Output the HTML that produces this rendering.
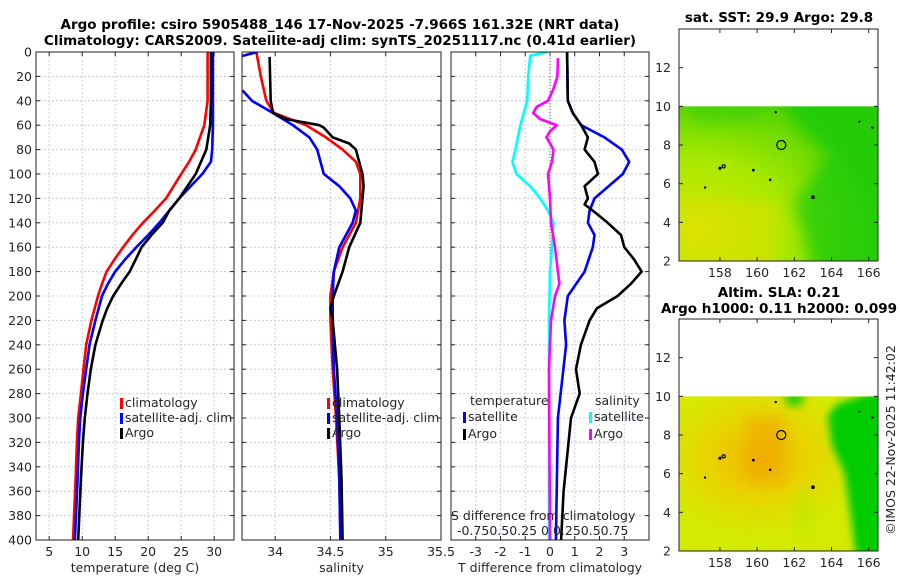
<!DOCTYPE html>
<html><head><meta charset="utf-8">
<style>
html,body{margin:0;padding:0;background:#fff;}
svg{display:block;font-family:"DejaVu Sans","Liberation Sans",sans-serif;}
.t{font-size:12.5px;fill:#262626;}
.b{font-size:13.5px;font-weight:bold;fill:#000;}
</style></head>
<body>
<svg id="c" width="900" height="580" viewBox="0 0 900 580" xmlns="http://www.w3.org/2000/svg">
<defs>
<clipPath id="cp1"><rect x="36" y="52" width="198" height="488"/></clipPath>
<clipPath id="cp2"><rect x="242" y="52" width="199" height="488"/></clipPath>
<clipPath id="cp3"><rect x="451" y="52" width="198" height="488"/></clipPath>
<clipPath id="cm1"><rect x="679" y="106.5" width="199" height="154.5"/></clipPath>
<clipPath id="cm2"><rect x="679" y="396.5" width="199" height="154.5"/></clipPath>
<filter id="blur" x="-0.3" y="-0.3" width="1.6" height="1.6"><feGaussianBlur stdDeviation="7"/></filter>
<filter id="blur2" x="-0.3" y="-0.3" width="1.6" height="1.6"><feGaussianBlur stdDeviation="4"/></filter>
<radialGradient id="sstA" cx="0.1" cy="0.8" r="0.9"><stop offset="0" stop-color="#d8e600"/><stop offset="0.5" stop-color="#a8e800"/><stop offset="1" stop-color="#50d400"/></radialGradient>
<radialGradient id="slaA" cx="0.4" cy="0.4" r="0.5"><stop offset="0" stop-color="#f0b400"/><stop offset="0.5" stop-color="#e8d400"/><stop offset="1" stop-color="#d4ea00"/></radialGradient>
</defs>
<text class="b" x="340" y="29" text-anchor="middle">Argo profile: csiro 5905488_146 17-Nov-2025 -7.966S 161.32E (NRT data)</text>
<text class="b" x="340" y="45" text-anchor="middle">Climatology: CARS2009. Satellite-adj clim: synTS_20251117.nc (0.41d earlier)</text>
<g id="g"></g>
</svg>
<script>
// depth levels (m)
const tDepth=[0,40,60,80,90,100,120,130,140,150,160,170,180,190,200,210,220,240,260,280,300,320,350,400];
const tClim=[29.0,29.0,28.5,27.2,26.2,25.0,22.7,21.0,19.2,17.6,16.2,14.9,13.7,13.0,12.4,11.9,11.4,10.6,10.2,9.8,9.4,9.2,9.0,8.6];
const tSat=[29.8,29.8,29.8,29.7,29.5,28.2,24.7,23.2,21.7,20.0,18.2,16.5,15.0,13.9,13.0,12.5,12.0,11.1,10.6,10.1,9.7,9.5,9.3,8.9];
const tArgo=[29.5,29.5,29.4,28.8,28.0,27.2,24.7,23.2,22.2,20.5,19.0,18.1,17.2,15.9,14.7,13.8,13.1,12.0,11.3,10.8,10.4,10.1,9.8,9.4];
const sDepthC=[0,20,40,50,60,70,80,90,100,120,140,160,180,200,220,260,300,350,400];
const sClim=[33.83,33.87,33.92,33.99,34.28,34.46,34.61,34.73,34.77,34.77,34.73,34.61,34.53,34.50,34.50,34.52,34.55,34.58,34.59];
const sDepthS=[0,3,8,30,32,40,50,60,70,80,100,110,120,130,140,160,180,200,220,260,300,350,400];
const sSat=[33.84,33.71,33.6,33.6,33.71,33.79,33.98,34.16,34.31,34.38,34.44,34.58,34.68,34.73,34.70,34.58,34.53,34.52,34.52,34.53,34.56,34.58,34.59];
const sDepthA=[4,40,50,55,60,62,70,75,80,100,110,120,140,160,180,200,210,220,240,260,300,350,400];
const sArgo=[33.95,33.96,33.98,34.10,34.40,34.44,34.52,34.67,34.73,34.79,34.80,34.79,34.77,34.67,34.61,34.53,34.50,34.52,34.54,34.56,34.58,34.60,34.61];
// differences from climatology
const dDepthTS=[0,40,50,60,70,80,90,100,120,130,140,150,160,180,200,220,240,300,400];
const dTSat=[0.69,0.72,0.92,1.26,2.2,2.9,3.2,2.94,1.8,1.6,1.53,1.8,1.73,1.4,0.72,0.58,0.65,0.32,0.24];
const dDepthTA=[0,40,50,60,70,80,90,100,110,120,125,130,140,150,160,170,180,190,200,210,220,240,260,280,300,330,360,400];
const dTArgo=[0.69,0.72,0.92,1.26,1.53,1.4,1.8,1.94,1.4,1.53,1.4,1.73,2.33,2.87,3.0,3.4,3.7,3.27,2.73,1.9,1.6,1.25,1.05,1.2,0.85,0.7,0.55,0.45];
const dDepthSS=[0,3,20,40,60,80,90,100,110,120,130,140,160,180,220,400];
const dSSat=[-0.02,-0.2,-0.22,-0.23,-0.3,-0.35,-0.38,-0.34,-0.2,-0.1,-0.02,0.035,0.02,0,-0.01,-0.01];
const dDepthSA=[5,20,30,40,45,50,55,60,65,70,80,90,100,120,140,160,180,190,200,220,260,400];
const dSArgo=[0.08,0.075,0.035,-0.02,-0.135,-0.17,-0.1,0.07,0,-0.035,0.035,0.02,-0.02,0,0.01,0.05,0.08,0.095,0.05,0.01,-0.01,0];
const depthTicks=[0,20,40,60,80,100,120,140,160,180,200,220,240,260,280,300,320,340,360,380,400];
const tTicks=[5,10,15,20,25,30];
const sTicks=[34,34.5,35,35.5];
const dTicks=[-3,-2,-1,0,1,2,3];
const latTicks=[2,4,6,8,10,12];
const lonTicks=[158,160,162,164,166];

const NS='http://www.w3.org/2000/svg';
const G=document.getElementById('g');
function mk(tag,at,parent){const e=document.createElementNS(NS,tag);for(const k in at)e.setAttribute(k,at[k]);(parent||G).appendChild(e);return e;}
const Y0=52,Y1=540;
const yD=d=>Y0+(d/400)*(Y1-Y0);
const P=[
 {x0:36,x1:234,min:3,max:33,ticks:tTicks,label:'temperature (deg C)',clip:'cp1',name:'temperature'},
 {x0:242,x1:441,min:33.7,max:35.5,ticks:sTicks,label:'salinity',clip:'cp2',name:'salinity'},
 {x0:451,x1:649,min:-4,max:4,ticks:dTicks,label:'T difference from climatology',clip:'cp3',name:'difference'}];
P.forEach(p=>{p.sx=v=>p.x0+(v-p.min)/(p.max-p.min)*(p.x1-p.x0);});

P.forEach((p,i)=>{
 const grid=mk('g',{});
 
 
 depthTicks.forEach(d=>{mk('line',{x1:p.x0,x2:p.x1,y1:yD(d),y2:yD(d),stroke:'#c8cce8','stroke-width':1,'stroke-dasharray':'2,2'},grid);
  mk('line',{x1:p.x0,x2:p.x0+4,y1:yD(d),y2:yD(d),stroke:'#222'},grid);
  mk('line',{x1:p.x1,x2:p.x1-4,y1:yD(d),y2:yD(d),stroke:'#222'},grid);});
 p.ticks.forEach(v=>{const x=p.sx(v);
  mk('line',{x1:x,x2:x,y1:Y0,y2:Y1,stroke:'#c8cce8','stroke-width':1,'stroke-dasharray':'2,2'},grid);
  mk('line',{x1:x,x2:x,y1:Y1,y2:Y1-4,stroke:'#222'},grid);
  mk('line',{x1:x,x2:x,y1:Y0,y2:Y0+4,stroke:'#222'},grid);
  const t=mk('text',{x:x,y:556,'text-anchor':'middle',class:'t'});t.textContent=String(v);
  
  
 });
 const lab=mk('text',{x:(p.x0+p.x1)/2,y:572,'text-anchor':'middle',class:'t'});lab.textContent=p.label;
 
 
});
depthTicks.forEach(d=>{const t=mk('text',{x:32,y:yD(d)+4.5,'text-anchor':'end',class:'t'});t.textContent=String(d);
 
 });
mk('line',{x1:P[2].sx(0),x2:P[2].sx(0),y1:Y0,y2:Y1,stroke:'#556b2f','stroke-width':1,'stroke-dasharray':'1,2'});

function series(p,depths,vals,color,name,scale){
 const pts=depths.map((d,i)=>p.sx(vals[i]*(scale||1)).toFixed(1)+','+yD(d).toFixed(1)).join(' ');
 const e=mk('polyline',{points:pts,fill:'none',stroke:color,'stroke-width':2.6,'stroke-linejoin':'round','clip-path':'url(#'+p.clip+')'});
 
 
}
series(P[0],tDepth,tClim,'#ff0000','temperature-climatology-line');
series(P[0],tDepth,tSat,'#0000ff','temperature-satellite-line');
series(P[0],tDepth,tArgo,'#000000','temperature-argo-line');
series(P[1],sDepthC,sClim,'#ff0000','salinity-climatology-line');
series(P[1],sDepthS,sSat,'#0000ff','salinity-satellite-line');
series(P[1],sDepthA,sArgo,'#000000','salinity-argo-line');
series(P[2],dDepthTS,dTSat,'#0000ff','t-diff-satellite-line');
series(P[2],dDepthTA,dTArgo,'#000000','t-diff-argo-line');
series(P[2],dDepthSS,dSSat,'#00ffff','s-diff-satellite-line',4);
series(P[2],dDepthSA,dSArgo,'#ff00ff','s-diff-argo-line',4);
P.forEach(p=>{const f=mk('rect',{x:p.x0,y:Y0,width:p.x1-p.x0,height:Y1-Y0,fill:'none',stroke:'#222','stroke-width':1});
 
 });

function legend(x,y,color,txt,name){
 const g=mk('g',{});
 
 
 mk('rect',{x:x,y:y-9,width:3,height:11,fill:color},g);
 const t=mk('text',{x:x+5,y:y,class:'t'},g);t.textContent=txt;
}
legend(120,407,'#ff0000','climatology','legend-climatology');
legend(120,422,'#0000ff','satellite-adj. clim','legend-satellite-adj');
legend(120,437,'#000000','Argo','legend-argo');
legend(327,407,'#ff0000','climatology','legend-climatology-2');
legend(327,422,'#0000ff','satellite-adj. clim','legend-satellite-adj-2');
legend(327,437,'#000000','Argo','legend-argo-2');
let tt=mk('text',{x:470,y:405,class:'t'});tt.textContent='temperature';


legend(463,421,'#0000ff','satellite','legend-t-satellite');
legend(463,438,'#000000','Argo','legend-t-argo');
tt=mk('text',{x:595,y:405,class:'t'});tt.textContent='salinity';


legend(589,421,'#00ffff','satellite','legend-s-satellite');
legend(589,438,'#ff00ff','Argo','legend-s-argo');
tt=mk('text',{x:451,y:520,class:'t'});tt.textContent='S difference from climatology';


tt=mk('text',{x:457,y:535,class:'t'});tt.textContent='-0.750.50.25 0 0.250.50.75';



// maps
const MX0=679,MX1=878,LON0=155.8,LON1=166.5;
const mx=l=>MX0+(l-LON0)/(LON1-LON0)*(MX1-MX0);
function map(top,bot,titles,base,blobs,clip,name){
 const my=la=>bot-(la-2)/(14-2)*(bot-top);
 const g=mk('g',{});
 
 
 mk('rect',{x:MX0,y:my(10),width:MX1-MX0,height:bot-my(10),fill:'url(#'+base+')'},g);
 const cg=mk('g',{'clip-path':'url(#'+clip+')'},g);
 blobs.forEach(b=>{
  const pts=b.pts.map(q=>mx(q[0]).toFixed(1)+','+my(q[1]).toFixed(1)).join(' ');
  mk('polygon',{points:pts,fill:b.c,opacity:b.o,filter:'url(#'+(b.f||'blur')+')'},cg);
 });
 [[161.3,8,4.5,'c'],[158.2,6.9,1.6,'c'],[158,6.8,1,'d'],[159.8,6.7,0.8,'d'],[160.7,6.2,0.7,'d'],[163,5.3,1.3,'d'],[161,9.7,0.6,'d'],[165.5,9.2,0.6,'d'],[166.2,8.9,0.6,'d'],[157.2,5.8,0.6,'d']].forEach(c=>{
  mk('circle',{cx:mx(c[0]),cy:my(c[1]),r:c[2],fill:c[3]=='c'?'none':'#000',stroke:'#000','stroke-width':1.2},g);});
 mk('rect',{x:MX0,y:top,width:MX1-MX0,height:bot-top,fill:'none',stroke:'#222'},g);
 latTicks.forEach(la=>{const y=my(la);
  mk('line',{x1:MX0,x2:MX0+4,y1:y,y2:y,stroke:'#222'},g);mk('line',{x1:MX1,x2:MX1-4,y1:y,y2:y,stroke:'#222'},g);
  const t=mk('text',{x:671,y:y+4.5,'text-anchor':'end',class:'t'},g);t.textContent=la;});
 lonTicks.forEach(lo=>{const x=mx(lo);
  mk('line',{x1:x,x2:x,y1:bot,y2:bot-4,stroke:'#222'},g);mk('line',{x1:x,x2:x,y1:top,y2:top+4,stroke:'#222'},g);
  const t=mk('text',{x:x,y:bot+16,'text-anchor':'middle',class:'t'},g);t.textContent=lo;});
 titles.forEach(([txt,y])=>{const t=mk('text',{x:779,y:y,'text-anchor':'middle',class:'b'},g);t.textContent=txt;});
}
map(29,261,[['sat. SST: 29.9 Argo: 29.8',22]],'sstA',[
 {pts:[[161,11],[167,11],[167,1],[163.2,1],[162,5],[163.8,7.5],[162,9.2]],c:'#10c810',o:0.65},
 {pts:[[155,11],[161,11],[160,9.2],[157,9]],c:'#30cc10',o:0.5},
 {pts:[[156,5],[161,5],[161,1],[156,1]],c:'#e0e000',o:0.5}
],'cm1','sst-map');
map(319,551,[['Altim. SLA: 0.21',297],['Argo h1000: 0.11 h2000: 0.099',313]],'slaA',[
 {pts:[[164.3,9.6],[167,10.5],[167,1],[165.4,1],[165,4],[164.7,6],[164,7.5],[163.8,9]],c:'#00cc00',o:1,f:'blur2'},
 {pts:[[161.4,10.5],[162.6,10.5],[162.4,9.5],[161.6,9.5]],c:'#10cc10',o:0.8,f:'blur2'},
 {pts:[[159.5,9],[161.5,9],[161.5,5.5],[159.5,5.5]],c:'#f0a800',o:0.6},
 {pts:[[162,5],[163,5],[163,3],[162,3]],c:'#b8ea00',o:0.6}
],'cm2','sla-map');
tt=mk('text',{x:0,y:0,class:'t',transform:'translate(895,440) rotate(-90)','text-anchor':'middle'});tt.textContent='©IMOS 22-Nov-2025 11:42:02';


</script>
</body></html>
